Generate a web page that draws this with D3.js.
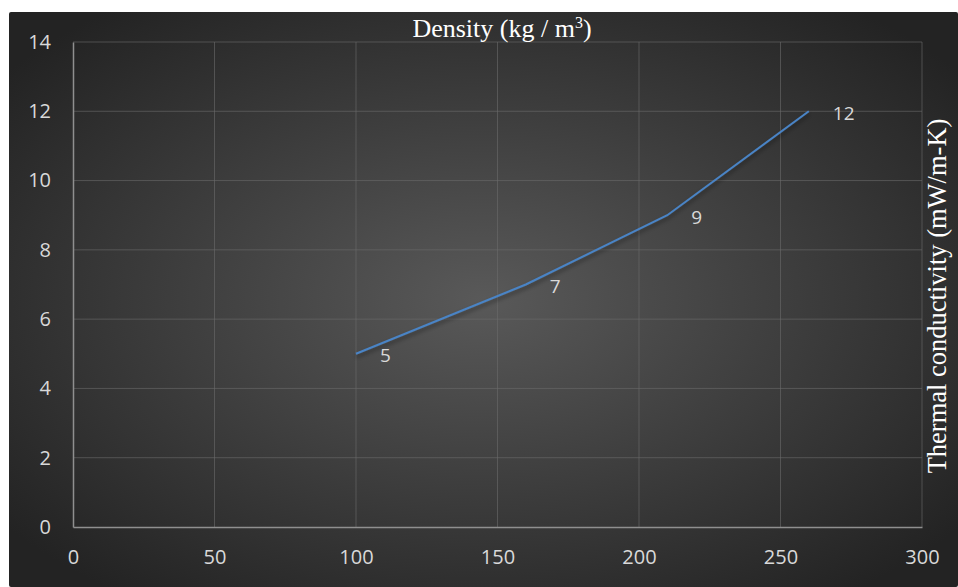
<!DOCTYPE html>
<html>
<head>
<meta charset="utf-8">
<script src="https://cdn.jsdelivr.net/npm/d3@7"></script>
<style>
  body { margin: 0; background: #fff; }
  svg { display: block; }
</style>
</head>
<body>
<div id="chart"></div>
<script>
// density vs thermal conductivity
const density = [100, 160, 210, 260];
const conductivity = [5, 7, 9, 12];
const xTicks = [0, 50, 100, 150, 200, 250, 300];
const yTicks = [0, 2, 4, 6, 8, 10, 12, 14];

const W = 958, H = 587;
const margin = {top: 42, right: 36, bottom: 60, left: 73};

const svg = d3.select('#chart').append('svg')
    .attr('width', W)
    .attr('height', H);

// background gradient
const defs = svg.append('defs');
const grad = defs.append('radialGradient')
    .attr('id', 'bg')
    .attr('cx', '50%').attr('cy', '50%').attr('r', '64%');
grad.append('stop').attr('offset', '0%').attr('stop-color', '#595959');
grad.append('stop').attr('offset', '100%').attr('stop-color', '#232323');

const shadow = defs.append('filter').attr('id', 'shadow')
    .attr('x', '-10%').attr('y', '-10%').attr('width', '120%').attr('height', '130%');
shadow.append('feDropShadow')
    .attr('dx', 0).attr('dy', 3).attr('stdDeviation', 2)
    .attr('flood-color', '#000').attr('flood-opacity', 0.45);

svg.append('rect')
    .attr('x', 9).attr('y', 12)
    .attr('width', W - 9).attr('height', H - 12)
    .attr('rx', 2)
    .attr('fill', 'url(#bg)');

const width = W - margin.left - margin.right;
const height = H - margin.top - margin.bottom;

const x = d3.scaleLinear().domain([0, 300]).range([margin.left, margin.left + width]);
const y = d3.scaleLinear().domain([0, 14]).range([margin.top + height, margin.top]);

const sans = '"Open Sans", "Noto Sans", sans-serif';
const serif = '"Liberation Serif", "Times New Roman", serif';

// gridlines
svg.append('g')
    .selectAll('line')
    .data(yTicks.slice(1))
    .join('line')
    .attr('x1', x(0)).attr('x2', x(300))
    .attr('y1', d => y(d)).attr('y2', d => y(d))
    .attr('stroke', '#6a6a6a').attr('stroke-opacity', 0.6).attr('stroke-width', 1);

svg.append('g')
    .selectAll('line')
    .data(xTicks.slice(1))
    .join('line')
    .attr('x1', d => x(d)).attr('x2', d => x(d))
    .attr('y1', y(0)).attr('y2', y(14))
    .attr('stroke', '#6a6a6a').attr('stroke-opacity', 0.6).attr('stroke-width', 1);

// axes
const xAxis = svg.append('g')
    .attr('transform', 'translate(0,' + y(0) + ')')
    .call(d3.axisBottom(x).tickValues(xTicks).tickSize(0).tickPadding(23));
const yAxis = svg.append('g')
    .attr('transform', 'translate(' + x(0) + ',0)')
    .call(d3.axisLeft(y).tickValues(yTicks).tickSize(0).tickPadding(22));

[xAxis, yAxis].forEach(a => {
    a.attr('font-size', null).attr('font-family', null);
    a.select('.domain').attr('stroke', '#8f8f8f').attr('stroke-width', 1.5);
    a.selectAll('text')
        .attr('fill', '#d9d9d9')
        .style('font-family', sans)
        .style('font-size', '20px');
});

// the line
const pts = density.map((d, i) => ({x: d, y: conductivity[i]}));
const line = d3.line().x(d => x(d.x)).y(d => y(d.y));

svg.append('path')
    .datum(pts)
    .attr('fill', 'none')
    .attr('stroke', '#4a84c6')
    .attr('stroke-width', 2)
    .attr('filter', 'url(#shadow)')
    .attr('d', line);

// data labels
svg.append('g')
    .selectAll('text')
    .data(pts)
    .join('text')
    .attr('x', d => x(d.x) + 24)
    .attr('y', d => y(d.y) + 2)
    .attr('dy', '0.35em')
    .attr('fill', '#d9d9d9')
    .style('font-family', sans)
    .style('font-size', '19px')
    .text(d => d.y);

// titles
const title = svg.append('text')
    .attr('x', 502)
    .attr('y', 37)
    .attr('text-anchor', 'middle')
    .attr('fill', '#ffffff')
    .style('font-family', serif)
    .style('font-size', '26px')
    .text('Density (kg / m');
title.append('tspan').attr('dy', -9).style('font-size', '16px').text('3');
title.append('tspan').attr('dy', 9).text(')');

svg.append('text')
    .attr('transform', 'translate(946,296) rotate(-90)')
    .attr('text-anchor', 'middle')
    .attr('fill', '#ffffff')
    .style('font-family', serif)
    .style('font-size', '26.5px')
    .text('Thermal conductivity (mW/m-K)');
</script>
</body>
</html>
